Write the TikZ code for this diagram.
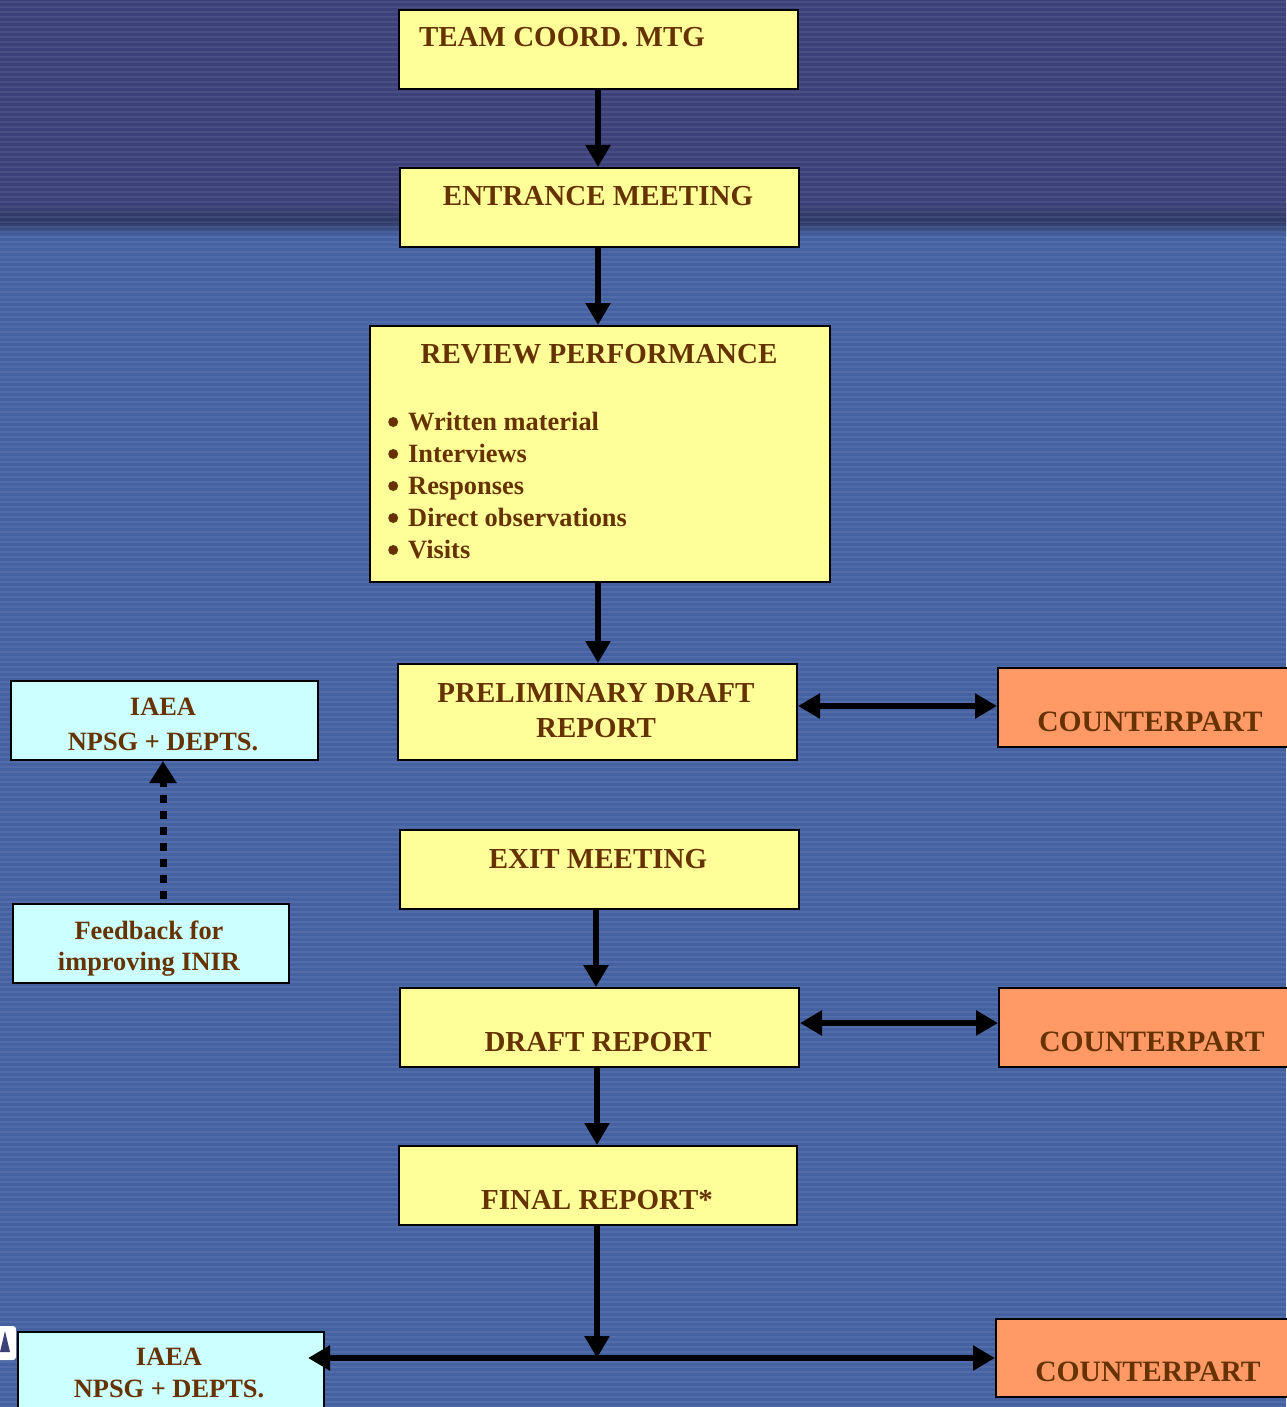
\documentclass[tikz,border=0pt]{standalone}
\usepackage{fontspec}
\setmainfont{Liberation Serif}
\usetikzlibrary{arrows.meta}
\definecolor{bgtop}{HTML}{3C4279}
\definecolor{bgband}{HTML}{2E3866}
\definecolor{bglow}{HTML}{4461A2}
\definecolor{boxyellow}{HTML}{FFFF99}
\definecolor{boxcyan}{HTML}{CCFFFF}
\definecolor{boxorange}{HTML}{FF9966}
\definecolor{txtbrown}{HTML}{663300}
% list marker: a round dot followed by the item text
\newcommand{\itemdot}[1]{\makebox[20pt][l]{\raisebox{3pt}{\tikz\fill[txtbrown] (0,0) circle (5pt);}}#1}
\tikzset{
  x=1pt, y=-1pt,
  box/.style={draw=black, line width=2pt, anchor=north west, inner sep=0pt},
  ybox/.style={box, fill=boxyellow},
  cbox/.style={box, fill=boxcyan},
  obox/.style={box, fill=boxorange},
  big/.style={font=\fontsize{29}{32}\selectfont\bfseries, text=txtbrown, anchor=base, inner sep=0pt},
  mid/.style={font=\fontsize{29.6}{32}\selectfont\bfseries, text=txtbrown, anchor=base, inner sep=0pt},
  small/.style={font=\fontsize{26.4}{32}\selectfont\bfseries, text=txtbrown, anchor=base, inner sep=0pt},
  flow/.style={line width=6pt, -{Triangle[length=22pt,width=24pt]}},
  both/.style={line width=6pt, {Triangle[length=22pt,width=24pt]}-{Triangle[length=22pt,width=24pt]}},
  dots/.style={line width=7pt, dash pattern=on 8pt off 8pt, -{Triangle[length=22pt,width=26pt]}},
}
\begin{document}
\begin{tikzpicture}
% background: dark upper band, shadow line, lighter lower field
\useasboundingbox (0,0) rectangle (1286,1407);
\fill[bgtop] (0,0) rectangle (1286,203);
\shade[top color=bgtop, bottom color=bgband] (0,203) rectangle (1286,221);
\shade[top color=bgband, bottom color=bglow] (0,221) rectangle (1286,236);
\fill[bglow] (0,236) rectangle (1286,1407);
\foreach \y in {2,7,...,1407} {
  \draw[white, opacity=0.07, line width=1.6pt] (0,\y) -- (1286,\y);
}
% small logo fragment at the lower left edge
\fill[white, rounded corners=3pt] (-4,1326) rectangle (16,1360);
\fill[bgtop] (0,1352) -- (5,1331) -- (10,1352) -- cycle;

% main column of steps
\node[ybox, minimum width=399pt, minimum height=79pt] (team) at (398,9) {};
\node[big] (team-t) at (562,47) {TEAM COORD. MTG};

\node[ybox, minimum width=399pt, minimum height=79pt] (entr) at (399,167) {};
\node[big] (entr-t) at (598,205) {ENTRANCE MEETING};

\node[ybox, minimum width=460pt, minimum height=256pt] (rev) at (369,325) {};
\node[big] (rev-t) at (599,363) {REVIEW PERFORMANCE};
\node[small, anchor=base west] (rev-b1) at (388,430) {\itemdot{Written material}};
\node[small, anchor=base west] (rev-b2) at (388,462) {\itemdot{Interviews}};
\node[small, anchor=base west] (rev-b3) at (388,494) {\itemdot{Responses}};
\node[small, anchor=base west] (rev-b4) at (388,526) {\itemdot{Direct observations}};
\node[small, anchor=base west] (rev-b5) at (388,558) {\itemdot{Visits}};

\node[ybox, minimum width=399pt, minimum height=96pt] (prel) at (397,663) {};
\node[big] (prel-t1) at (596,702) {PRELIMINARY DRAFT};
\node[big] (prel-t2) at (596,737) {REPORT};

\node[ybox, minimum width=399pt, minimum height=79pt] (exit) at (399,829) {};
\node[big] (exit-t) at (598,868) {EXIT MEETING};

\node[ybox, minimum width=399pt, minimum height=79pt] (draft) at (399,987) {};
\node[big] (draft-t) at (598,1051) {DRAFT REPORT};

\node[ybox, minimum width=398pt, minimum height=79pt] (final) at (398,1145) {};
\node[big] (final-t) at (597,1209) {FINAL REPORT*};

% counterparts on the right
\node[obox, minimum width=300pt, minimum height=79pt] (cp1) at (997,667) {};
\node[mid] (cp1-t) at (1150,731) {COUNTERPART};
\node[obox, minimum width=300pt, minimum height=79pt] (cp2) at (998,987) {};
\node[mid] (cp2-t) at (1152,1051) {COUNTERPART};
\node[obox, minimum width=300pt, minimum height=78pt] (cp3) at (995,1318) {};
\node[mid] (cp3-t) at (1148,1381) {COUNTERPART};

% IAEA side boxes
\node[cbox, minimum width=307pt, minimum height=79pt] (iaea1) at (10,680) {};
\node[small] (iaea1-t1) at (163,715) {IAEA};
\node[small] (iaea1-t2) at (163,750) {NPSG + DEPTS.};

\node[cbox, minimum width=276pt, minimum height=79pt] (fb) at (12,903) {};
\node[small] (fb-t1) at (149,939) {Feedback for};
\node[small] (fb-t2) at (149,970) {improving INIR};

\node[cbox, minimum width=306pt, minimum height=90pt] (iaea2) at (17,1331) {};
\node[small] (iaea2-t1) at (169,1365) {IAEA};
\node[small] (iaea2-t2) at (169,1397) {NPSG + DEPTS.};

% connectors
\draw[flow] (team.south -| 598,0) -- (entr.north -| 598,0);
\draw[flow] (entr.south -| 598,0) -- (rev.north -| 598,0);
\draw[flow] (rev.south -| 598,0) -- (prel.north -| 598,0);
\draw[both] (prel.east |- 0,706) -- (cp1.west |- 0,706);
\draw[flow] (exit.south -| 596,0) -- (draft.north -| 596,0);
\draw[both] (draft.east |- 0,1023) -- (cp2.west |- 0,1023);
\draw[flow] (draft.south -| 597,0) -- (final.north -| 597,0);
\coordinate (split) at (597,1358);
\draw[flow] (final.south -| 597,0) -- (split);
\draw[flow] (split) -- (308,1358);
\draw[flow] (split) -- (cp3.west |- split);
\draw[dots] (fb.north -| 163,0) ++(0,-4) -- (iaea1.south -| 163,0);
\end{tikzpicture}
\end{document}
